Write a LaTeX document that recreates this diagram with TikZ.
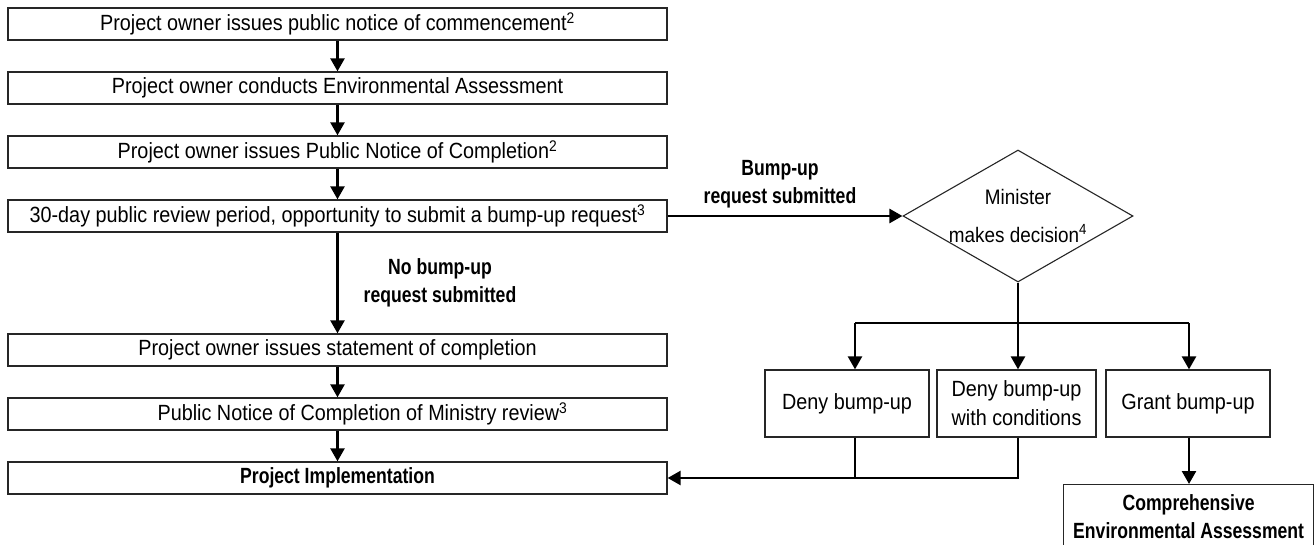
\documentclass[tikz,border=0pt]{standalone}
\usepackage{fontspec}
\setmainfont{Liberation Sans}[FakeStretch=0.9]
\newfontfamily\lblfont{Liberation Sans}[FakeStretch=0.8]
\usetikzlibrary{shapes.geometric,arrows.meta}

\begin{document}
\begin{tikzpicture}[x=1pt,y=-1pt,
  txt/.style={font=\fontsize{22}{29}\selectfont},
  stepbox/.style={txt, draw=black!85, line width=1.3pt, minimum width=659pt,
    minimum height=32pt, inner sep=0pt, anchor=center},
  outcome/.style={txt, draw=black!85, line width=1.3pt, minimum height=67pt,
    inner sep=0pt, align=center},
  decision/.style={diamond, draw=black!85, line width=1.1pt, inner sep=-8pt,
    minimum width=230pt, minimum height=132pt, aspect=1.74, align=center,
    font=\fontsize{21}{38}\selectfont},
  lbl/.style={font=\fontsize{22}{28}\lblfont\bfseries, align=center},
  link/.style={line width=2.5pt, black},
  flow/.style={link, -{Triangle[length=13pt,width=14pt]}}]

\useasboundingbox (0,0) rectangle (1315,544);
\fill[white] (0,0) rectangle (1315,544);

% main sequence of steps
\node[stepbox] (s1) at (337.5,24) {Project owner issues public notice of commencement\textsuperscript{2}};
\node[stepbox] (s2) at (337.5,88) {Project owner conducts Environmental Assessment};
\node[stepbox] (s3) at (337.5,152) {Project owner issues Public Notice of Completion\textsuperscript{2}};
\node[stepbox] (s4) at (337.5,216) {30-day public review period, opportunity to submit a bump-up request\textsuperscript{3}};
\node[stepbox] (s5) at (337.5,350) {Project owner issues statement of completion};
\node[stepbox] (s6) at (337.5,414) {\hspace*{50pt}Public Notice of Completion of Ministry review\textsuperscript{3}};
\node[stepbox, lbl] (s7) at (337.5,478) {Project Implementation};

% ministerial decision branch
\node[decision] (dec) at (1018,216) {Minister\\makes decision\textsuperscript{4}};
\node[outcome, minimum width=164pt] (deny) at (847,403.5) {Deny bump-up};
\node[outcome, minimum width=159pt] (denyc) at (1016.5,403.5) {Deny bump-up\\with conditions};
\node[outcome, minimum width=164pt] (grant) at (1188,403.5) {Grant bump-up};
\node[draw=black!85, line width=1.3pt, minimum width=250pt, minimum height=64pt,
  inner sep=0pt, align=center, anchor=north west, lbl] (cea) at (1063,484)
  {Comprehensive\\Environmental Assessment};

% path labels
\node[lbl] (lblup) at (780,184) {Bump-up\\request submitted};
\node[lbl] (lblno) at (440,283) {No bump-up\\request submitted};

% connectors
\draw[flow] (s1) -- (s2);
\draw[flow] (s2) -- (s3);
\draw[flow] (s3) -- (s4);
\draw[flow] (s4) -- (s5);
\draw[flow] (s5) -- (s6);
\draw[flow] (s6) -- (s7);
\draw[flow] (s4.east) -- (dec.west);

\coordinate (sL) at (855,323);
\coordinate (sR) at (1189,323);
\draw[link] (dec.south) -- (dec.south |- sL);
\draw[link] (sL) -- (sR);
\draw[flow] (sL) -- (sL |- deny.north);
\draw[flow] (dec.south) -- (dec.south |- denyc.north);
\draw[flow] (sR) -- (sR |- grant.north);

\coordinate (jL) at (855,478);
\coordinate (jR) at (1018,478);
\draw[link] (sL |- deny.south) -- (jL);
\draw[flow] (jR |- denyc.south) |- (s7.east);
\draw[flow] (sR |- grant.south) -- (sR |- cea.north);
\end{tikzpicture}
\end{document}
